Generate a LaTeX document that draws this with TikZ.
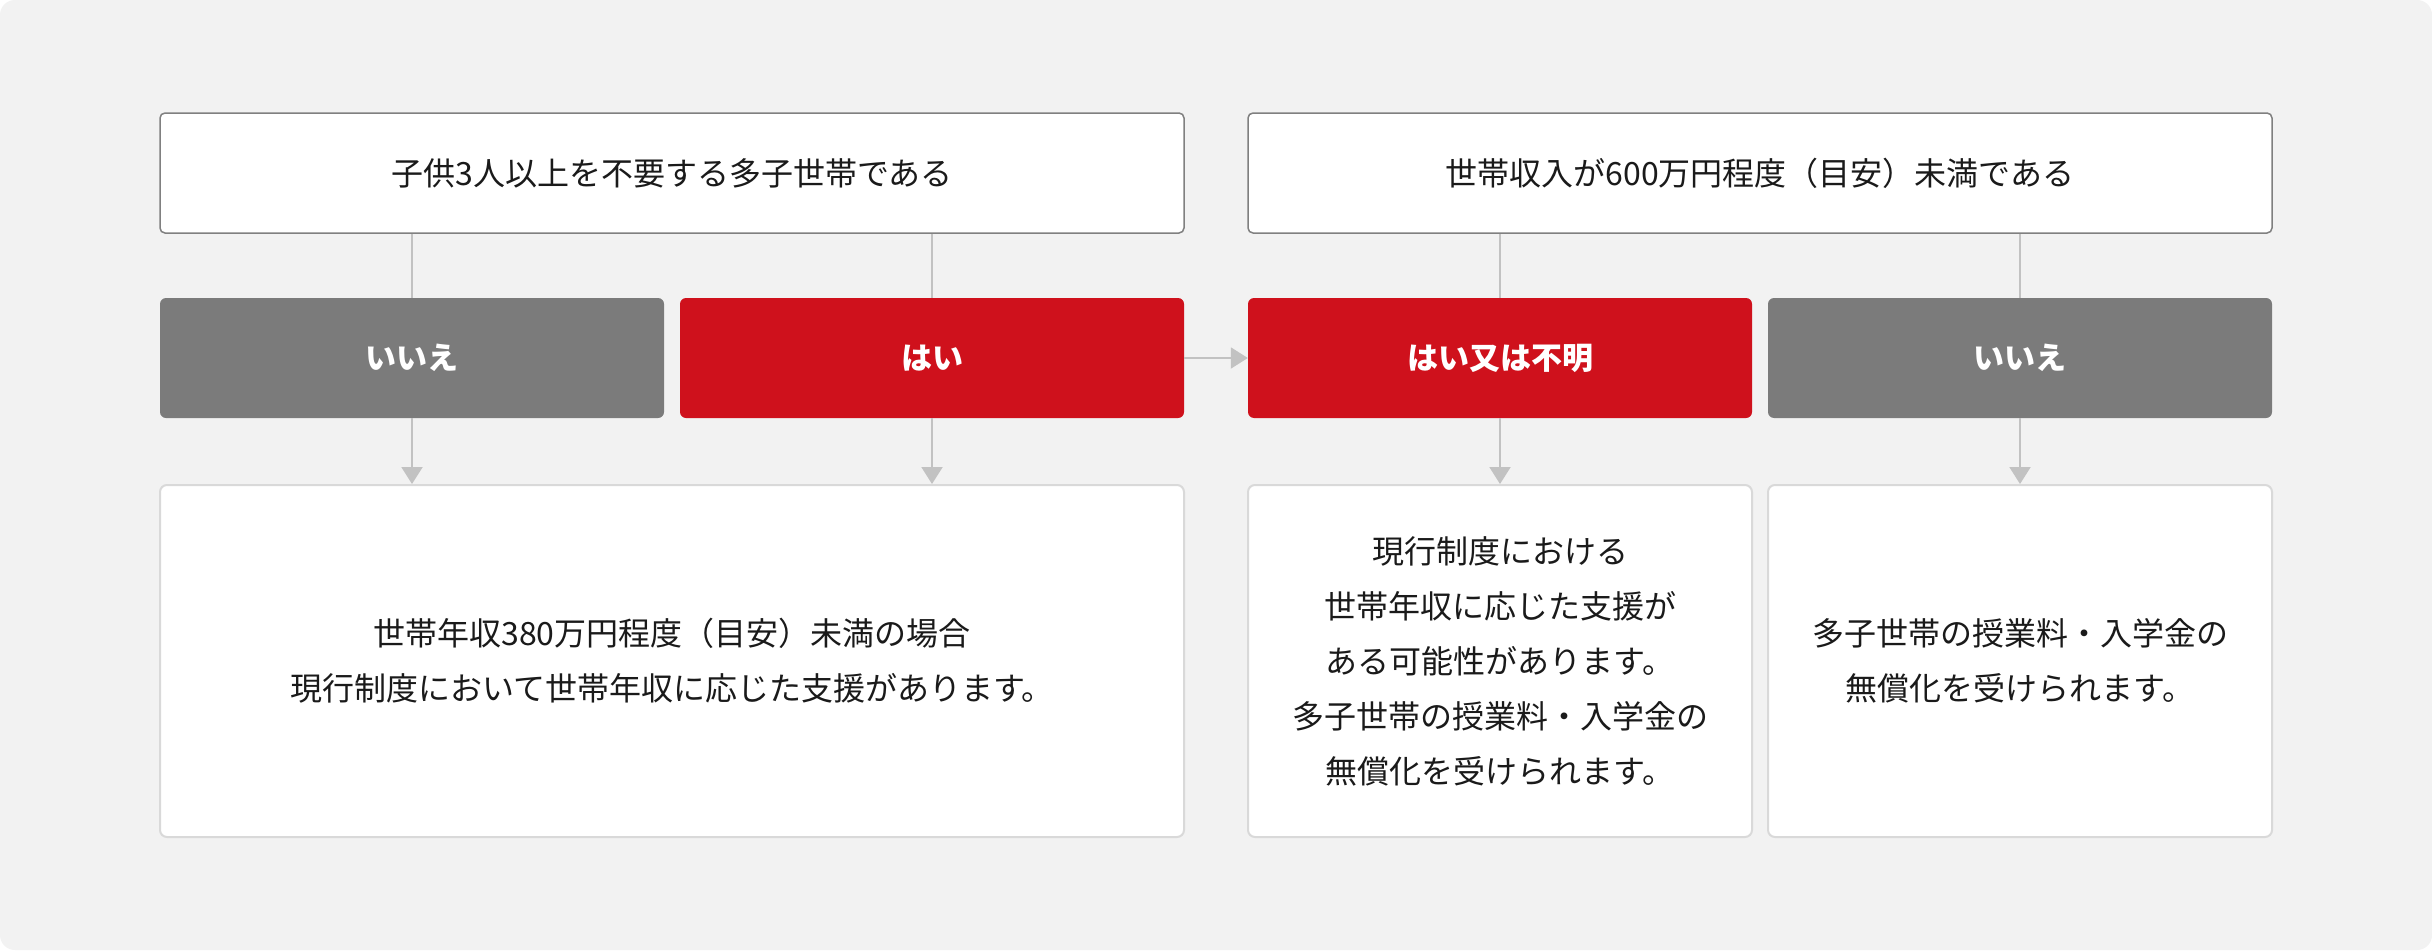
\documentclass[tikz,border=0pt]{standalone}
\usepackage{fontspec}
\setmainfont{Noto Sans CJK JP}
\usetikzlibrary{arrows.meta}
\definecolor{bgc}{HTML}{F2F2F2}
\definecolor{redc}{HTML}{CF111C}
\definecolor{grayc}{HTML}{7B7B7B}
\definecolor{topline}{HTML}{808080}
\definecolor{boxline}{HTML}{D9D9D9}
\definecolor{conn}{HTML}{C2C2C2}
\definecolor{txt}{HTML}{1A1A1A}
\tikzset{
  qbox/.style={draw=topline, line width=1.5pt, fill=white, rounded corners=5pt,
    minimum width=1024pt, minimum height=120pt, inner sep=0pt,
    font=\fontsize{32}{38}\selectfont, text=txt},
  ansred/.style={fill=redc, rounded corners=6pt, minimum width=504pt, minimum height=120pt,
    inner sep=0pt, text=white, font=\fontsize{31}{36}\selectfont\bfseries},
  ansgray/.style={ansred, fill=grayc},
  rbox/.style={draw=boxline, line width=2pt, fill=white, rounded corners=7pt,
    minimum height=352pt, inner sep=0pt, align=center, text=txt,
    font=\fontsize{32}{55}\selectfont},
  conline/.style={draw=conn, line width=2pt},
  conarrow/.style={conline, -{Triangle[width=21pt,length=17pt,fill=conn]}, shorten >=0pt}
}
\begin{document}
\begin{tikzpicture}[x=1pt,y=-1pt]
\useasboundingbox (0,0) rectangle (2432,950);
\fill[white] (0,0) rectangle (2432,950);
\fill[bgc, rounded corners=15pt] (0,0) rectangle (2432,950);

\node[qbox] (q1) at (672,173) {子供3人以上を不要する多子世帯である};
\node[qbox] (q2) at (1760,173) {世帯収入が600万円程度（目安）未満である};

\node[ansgray] (n1) at (412,358) {いいえ};
\node[ansred] (y1) at (932,358) {はい};
\node[ansred] (y2) at (1500,358) {はい又は不明};
\node[ansgray] (n2) at (2020,358) {いいえ};

\node[rbox, minimum width=1024pt] (r1) at (672,661) {世帯年収380万円程度（目安）未満の場合\\現行制度において世帯年収に応じた支援があります。};
\node[rbox, minimum width=504pt] (r2) at (1500,661) {現行制度における\\世帯年収に応じた支援が\\ある可能性があります。\\多子世帯の授業料・入学金の\\無償化を受けられます。};
\node[rbox, minimum width=504pt] (r3) at (2020,661) {多子世帯の授業料・入学金の\\無償化を受けられます。};

\draw[conline] (q1.south -| n1.north) -- (n1.north);
\draw[conline] (q1.south -| y1.north) -- (y1.north);
\draw[conline] (q2.south -| y2.north) -- (y2.north);
\draw[conline] (q2.south -| n2.north) -- (n2.north);

\draw[conarrow] (n1.south) -- (n1.south |- r1.north);
\draw[conarrow] (y1.south) -- (y1.south |- r1.north);
\draw[conarrow] (y2.south) -- (r2.north);
\draw[conarrow] (n2.south) -- (r3.north);
\draw[conarrow] (y1.east) -- (y2.west);
\end{tikzpicture}
\end{document}
